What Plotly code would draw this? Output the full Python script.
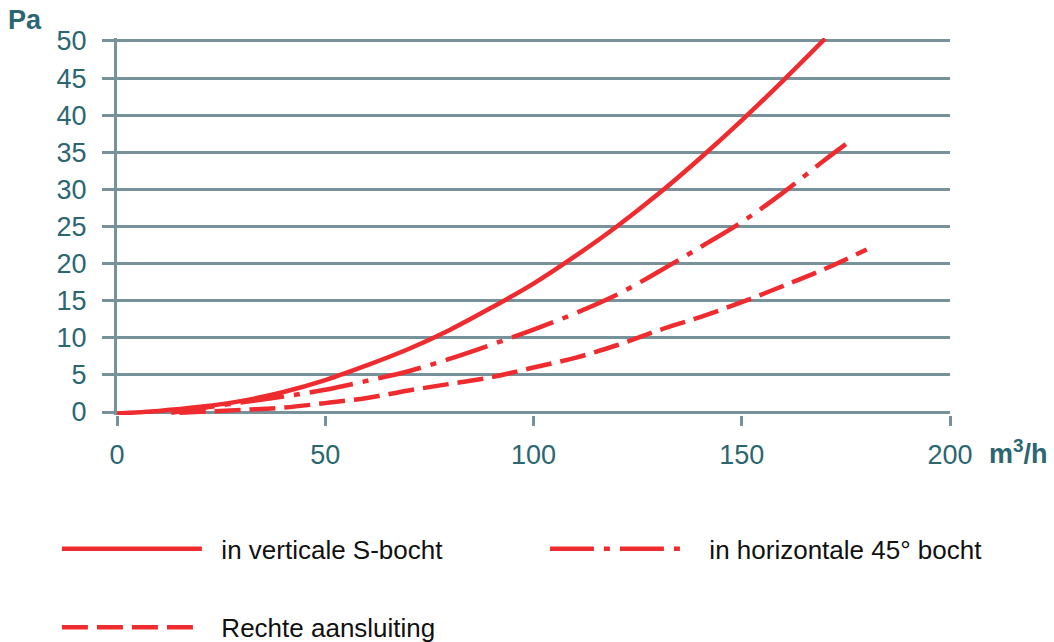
import plotly.graph_objects as go

# Data
flow_s_bocht = [0, 10, 20, 30, 40, 50, 60, 70, 80, 90, 100, 110, 120, 130, 140, 150, 160, 170]
pa_s_bocht = [-0.2, 0.15, 0.7, 1.5, 2.7, 4.3, 6.3, 8.5, 11.1, 14.1, 17.3, 21.0, 25.0, 29.4, 34.2, 39.3, 44.7, 50.3]

flow_45 = [13, 20, 30, 40, 50, 60, 70, 80, 90, 100, 110, 120, 130, 140, 150, 160, 170, 175]
pa_45 = [-0.1, 0.5, 1.3, 2.1, 3.0, 4.2, 5.5, 7.2, 9.1, 11.1, 13.3, 15.8, 18.9, 22.2, 25.6, 29.6, 34.0, 36.1]

flow_recht = [15, 30, 40, 50, 60, 70, 80, 90, 100, 110, 120, 130, 140, 150, 160, 170, 180]
pa_recht = [-0.1, 0.3, 0.6, 1.2, 1.9, 2.9, 3.8, 4.7, 6.0, 7.3, 9.0, 11.0, 12.8, 14.8, 17.0, 19.3, 21.9]

series_names = ["in verticale S-bocht", "in horizontale 45° bocht", "Rechte aansluiting"]
x_ticks = [0, 50, 100, 150, 200]
y_ticks = [0, 5, 10, 15, 20, 25, 30, 35, 40, 45, 50]

RED = "#ee2b2e"
GRID = "#77929a"
TEAL = "#2b6671"
FONT = "Liberation Sans, Arial, sans-serif"
PAD = "\u00a0\u00a0"

fig = go.Figure()
fig.add_trace(go.Scatter(x=flow_s_bocht, y=pa_s_bocht, mode="lines", name=PAD + series_names[0],
                         line=dict(color=RED, width=4.5, shape="spline"), legend="legend",
                         showlegend=True))
fig.add_trace(go.Scatter(x=flow_45, y=pa_45, mode="lines", name=PAD + series_names[1],
                         line=dict(color=RED, width=4.5, shape="spline", dash="44px,10px,6px,10px"),
                         legend="legend3", showlegend=True))
fig.add_trace(go.Scatter(x=flow_recht, y=pa_recht, mode="lines", name=PAD + series_names[2],
                         line=dict(color=RED, width=4.5, shape="spline", dash="26px,9px"),
                         legend="legend2", showlegend=True))

legend_common = dict(orientation="h", xref="container", yref="container",
                     xanchor="left", yanchor="middle", itemwidth=140, visible=True,
                     font=dict(size=26, color="#111111", family=FONT), bgcolor="rgba(0,0,0,0)")

fig.update_layout(
    width=1054, height=642,
    showlegend=True,
    margin=dict(l=117, r=104, t=38, b=227),
    paper_bgcolor="white", plot_bgcolor="white",
    font=dict(family=FONT, size=27, color=TEAL),
    xaxis=dict(range=[0, 200], tickvals=x_ticks, showgrid=False, zeroline=False,
               showline=False, ticks="outside", ticklen=10, tickwidth=3, tickcolor=GRID,
               ticklabelstandoff=6, tickfont=dict(size=27, color=TEAL)),
    yaxis=dict(range=[-0.4, 50.4], tickvals=y_ticks, showgrid=True, gridcolor=GRID, gridwidth=3,
               zeroline=False, showline=True, linecolor=GRID, linewidth=3,
               ticks="outside", ticklen=12, tickwidth=3, tickcolor=GRID,
               ticklabelstandoff=10, tickfont=dict(size=27, color=TEAL)),
    legend=dict(x=0.054, y=0.145, **legend_common),
    legend3=dict(x=0.517, y=0.145, **legend_common),
    legend2=dict(x=0.054, y=0.023, **legend_common),
    annotations=[
        dict(text="<b>Pa</b>", xref="paper", yref="paper", x=-0.133, y=1.048, xanchor="left",
             yanchor="middle", showarrow=False, font=dict(size=27, color=TEAL, family=FONT)),
        dict(text="<b>m<sup>3</sup>/h</b>", xref="paper", yref="paper", x=1.044, y=-0.098,
             xanchor="left", yanchor="middle", showarrow=False,
             font=dict(size=27, color=TEAL, family=FONT)),
    ],
)

fig.write_html("out.html", config={"displayModeBar": False},
               post_script="document.body.style.margin='0';")
